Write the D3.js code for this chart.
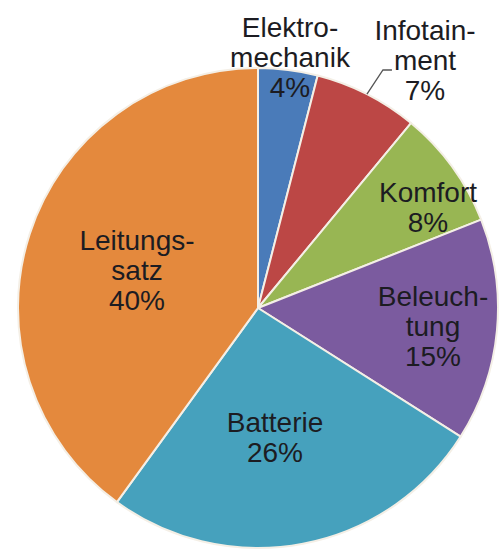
<!DOCTYPE html>
<html>
<head>
<meta charset="utf-8">
<script src="https://cdn.jsdelivr.net/npm/d3@7"></script>
<style>
  html, body { margin: 0; padding: 0; background: #fff; }
  svg { display: block; }
</style>
</head>
<body>
<svg id="chart" width="502" height="552"></svg>
<script>
// Component shares (percent), clockwise from 12 o'clock
const categories = ["Elektromechanik", "Infotainment", "Komfort", "Beleuchtung", "Batterie", "Leitungssatz"];
const values = [4, 7, 8, 15, 26, 40];
const labelLines = [
  ["Elektro-", "mechanik"],
  ["Infotain-", "ment"],
  ["Komfort"],
  ["Beleuch-", "tung"],
  ["Batterie"],
  ["Leitungs-", "satz"]
];
const colors = ["#4a7bb9", "#bc4745", "#98b653", "#7b5b9f", "#46a1bd", "#e4893d"];

// Layout
const W = 502, H = 552;
const cx = 258, cy = 308, R = 240;
const fontSize = 28, lineH = 30;
// label anchor (x, y of first baseline) per slice
const labelAnchor = {
  "Elektromechanik": [290, 37],
  "Infotainment":    [425, 40],
  "Komfort":         [428, 202],
  "Beleuchtung":     [433, 306],
  "Batterie":        [275, 432],
  "Leitungssatz":    [137, 250]
};

const svg = d3.select("#chart");
const g = svg.append("g").attr("transform", `translate(${cx},${cy})`);

const pie = d3.pie().sort(null).value(d => d.value).startAngle(0).endAngle(2 * Math.PI);
const data = categories.map((c, i) => ({ name: c, value: values[i], lines: labelLines[i], color: colors[i] }));
const arcs = pie(data);
const arc = d3.arc().innerRadius(0).outerRadius(R);

g.selectAll("path.slice")
  .data(arcs)
  .join("path")
  .attr("class", "slice")
  .attr("d", arc)
  .attr("fill", d => d.data.color)
  .attr("stroke", "#f4efe6")
  .attr("stroke-width", 2)
  .attr("stroke-linejoin", "round");

// Leader line for the Infotainment label
const info = arcs[1];
const mid = (info.startAngle + info.endAngle) / 2;
const p0 = [cx + R * Math.sin(mid), cy - R * Math.cos(mid)];
svg.append("polyline")
  .attr("points", [p0, [p0[0] + 16, 70], [p0[0] + 25, 70]].map(p => p.join(",")).join(" "))
  .attr("fill", "none")
  .attr("stroke", "#555")
  .attr("stroke-width", 1.3);

// Labels
const labels = svg.selectAll("text.lbl")
  .data(arcs)
  .join("text")
  .attr("class", "lbl")
  .attr("text-anchor", "middle")
  .attr("font-family", "'Liberation Sans', Arial, sans-serif")
  .attr("font-size", fontSize)
  .attr("fill", "#1c1c22");

labels.each(function(d) {
  const [x, y] = labelAnchor[d.data.name];
  const t = d3.select(this);
  const lines = d.data.lines.concat([d.data.value + "%"]);
  lines.forEach((s, i) => {
    t.append("tspan").attr("x", x).attr("y", y + i * lineH).text(s);
  });
});
</script>
</body>
</html>
